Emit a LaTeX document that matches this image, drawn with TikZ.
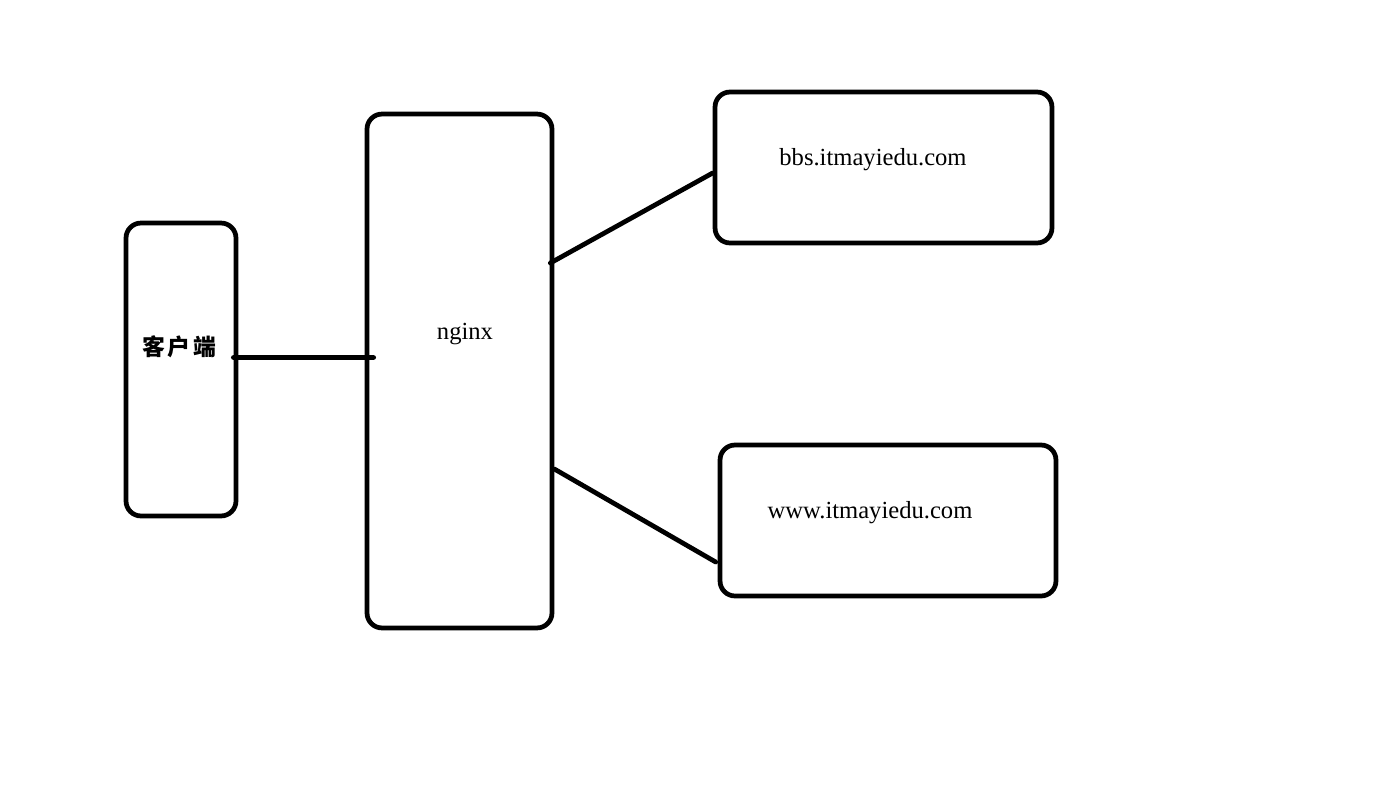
\documentclass[tikz,border=0pt]{standalone}
\usepackage{fontspec}
\setmainfont{Liberation Serif}
\newfontfamily\cjk{Noto Sans CJK SC}
\usepackage{tikz}
\usetikzlibrary{calc}

\begin{document}
\begin{tikzpicture}[x=0.02cm,y=-0.02cm]
  \tikzstyle{box} = [draw,line width=2.7pt,rounded corners=3mm,inner sep=0pt]
  \tikzstyle{link} = [line width=2.7pt,line cap=round]
  \tikzstyle{label} = [font=\fontsize{14}{16}\selectfont]
  %
  \useasboundingbox (0,0) rectangle (1376,805);
  % Boxes.
  \node[box,minimum width=2.2cm,minimum height=5.86cm] (client) at (181,369.5) {};
  \node[box,minimum width=3.7cm,minimum height=10.28cm] (nginx) at (459.5,371) {};
  \node[box,minimum width=6.74cm,minimum height=3.02cm] (bbs) at (883.5,167.5) {};
  \node[box,minimum width=6.72cm,minimum height=3.02cm] (www) at (888,520.5) {};
  % Texts.
  \node[label] (clienttext) at (179,347) {\cjk\bfseries\fontsize{13}{15}\selectfont 客\kern1.5pt 户\kern1.5pt 端};
  \node[label] (nginxtext) at (465,334) {nginx};
  \node[label] (bbstext) at (873,160) {bbs.itmayiedu.com};
  \node[label] (wwwtext) at (870,513) {www.itmayiedu.com};
  % Lines.
  \draw[link] ($(client.east)+(-5,-12)$) -- ($(nginx.west)+(9,-13.5)$);
  \draw[link] ($(nginx.east)+(-4,-108)$) -- ($(bbs.west)+(0,5.5)$);
  \draw[link] ($(nginx.east)+(0,98)$) -- ($(www.west)+(-2,41.5)$);
\end{tikzpicture}
\end{document}
